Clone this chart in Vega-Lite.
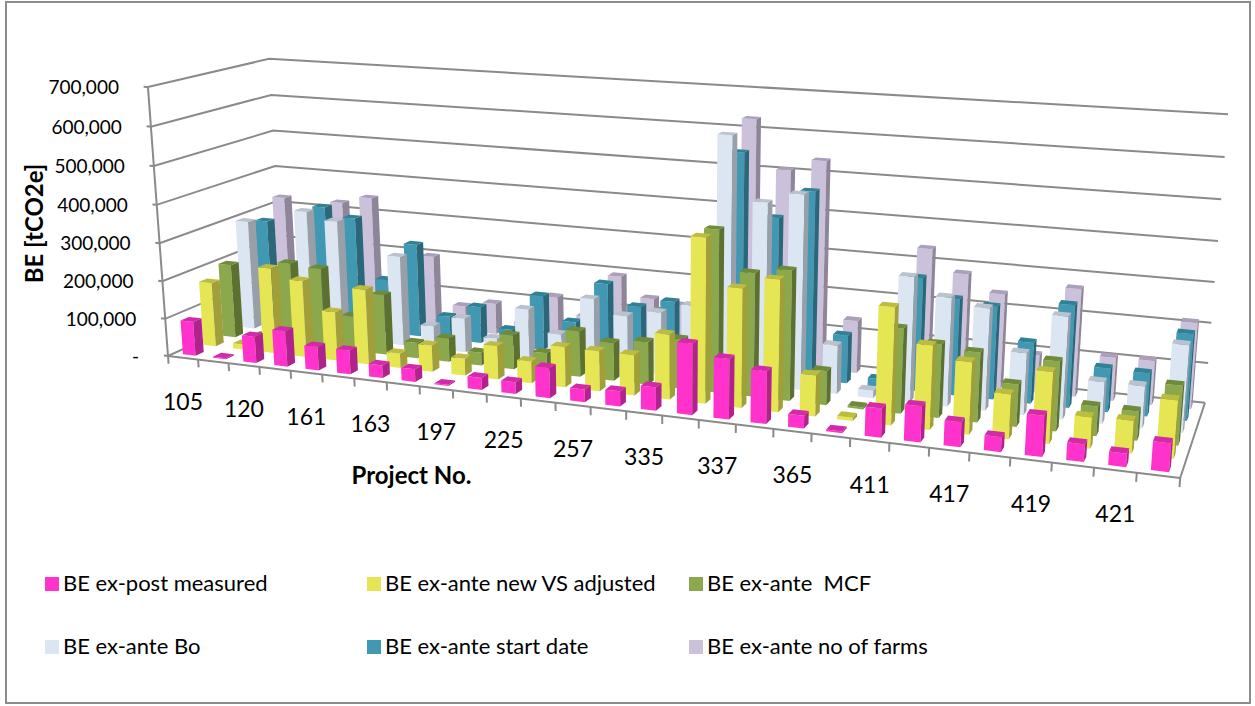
{
  "$schema": "https://vega.github.io/schema/vega-lite/v6.json",
  "width": 1244,
  "height": 701,
  "padding": {"left": 6, "top": 2, "right": 5, "bottom": 3},
  "autosize": {"type": "none"},
  "background": "white",
  "view": {"stroke": "#8c8c8c", "strokeWidth": 2, "fill": "white"},
  "config": {"font": "Lato", "legend": {"labelFont": "Lato"}},
  "datasets": {
    "frame": [
      {"part": "level", "value": 0, "label": "-  "},
      {"part": "level", "value": 100000, "label": "100,000"},
      {"part": "level", "value": 200000, "label": "200,000"},
      {"part": "level", "value": 300000, "label": "300,000"},
      {"part": "level", "value": 400000, "label": "400,000"},
      {"part": "level", "value": 500000, "label": "500,000"},
      {"part": "level", "value": 600000, "label": "600,000"},
      {"part": "level", "value": 700000, "label": "700,000"},
      {"part": "edge", "edge": "left"},
      {"part": "edge", "edge": "front"},
      {"part": "edge", "edge": "right"},
      {"part": "tick", "slot": 0}, {"part": "tick", "slot": 1}, {"part": "tick", "slot": 2}, {"part": "tick", "slot": 3},
      {"part": "tick", "slot": 4}, {"part": "tick", "slot": 5}, {"part": "tick", "slot": 6}, {"part": "tick", "slot": 7},
      {"part": "tick", "slot": 8}, {"part": "tick", "slot": 9}, {"part": "tick", "slot": 10}, {"part": "tick", "slot": 11},
      {"part": "tick", "slot": 12}, {"part": "tick", "slot": 13}, {"part": "tick", "slot": 14}, {"part": "tick", "slot": 15},
      {"part": "tick", "slot": 16}, {"part": "tick", "slot": 17}, {"part": "tick", "slot": 18}, {"part": "tick", "slot": 19},
      {"part": "tick", "slot": 20}, {"part": "tick", "slot": 21}, {"part": "tick", "slot": 22}, {"part": "tick", "slot": 23},
      {"part": "tick", "slot": 24}, {"part": "tick", "slot": 25}, {"part": "tick", "slot": 26}, {"part": "tick", "slot": 27},
      {"part": "tick", "slot": 28}
    ],
    "projects": [
      {"slot": 0, "project": "105"}, {"slot": 2, "project": "120"}, {"slot": 4, "project": "161"}, {"slot": 6, "project": "163"},
      {"slot": 8, "project": "197"}, {"slot": 10, "project": "225"}, {"slot": 12, "project": "257"}, {"slot": 14, "project": "335"},
      {"slot": 16, "project": "337"}, {"slot": 18, "project": "365"}, {"slot": 20, "project": "411"}, {"slot": 22, "project": "417"},
      {"slot": 24, "project": "419"}, {"slot": 26, "project": "421"}
    ],
    "bars": [
      {"slot":0,"depth":5,"value":326000},{"slot":1,"depth":5,"value":15000},{"slot":2,"depth":5,"value":326000},{"slot":3,"depth":5,"value":346000},{"slot":4,"depth":5,"value":180000},{"slot":5,"depth":5,"value":198000},{"slot":6,"depth":5,"value":68000},{"slot":7,"depth":5,"value":84000},{"slot":8,"depth":5,"value":40000},{"slot":9,"depth":5,"value":120000},{"slot":10,"depth":5,"value":75000},{"slot":11,"depth":5,"value":193000},{"slot":12,"depth":5,"value":141000},{"slot":13,"depth":5,"value":131000},{"slot":14,"depth":5,"value":150000},{"slot":15,"depth":5,"value":630000},{"slot":16,"depth":5,"value":507000},{"slot":17,"depth":5,"value":537000},{"slot":18,"depth":5,"value":136000},{"slot":19,"depth":5,"value":10000},{"slot":20,"depth":5,"value":337000},{"slot":21,"depth":5,"value":282000},{"slot":22,"depth":5,"value":240000},{"slot":23,"depth":5,"value":95000},{"slot":24,"depth":5,"value":270000},{"slot":25,"depth":5,"value":108000},{"slot":26,"depth":5,"value":110000},{"slot":27,"depth":5,"value":213000},
      {"slot":0,"depth":4,"value":279000},{"slot":1,"depth":4,"value":15000},{"slot":2,"depth":4,"value":332000},{"slot":3,"depth":4,"value":309000},{"slot":4,"depth":4,"value":147000},{"slot":5,"depth":4,"value":252000},{"slot":6,"depth":4,"value":63000},{"slot":7,"depth":4,"value":98000},{"slot":8,"depth":4,"value":45000},{"slot":9,"depth":4,"value":146000},{"slot":10,"depth":4,"value":84000},{"slot":11,"depth":4,"value":195000},{"slot":12,"depth":4,"value":143000},{"slot":13,"depth":4,"value":165000},{"slot":14,"depth":4,"value":150000},{"slot":15,"depth":4,"value":562000},{"slot":16,"depth":4,"value":405000},{"slot":17,"depth":4,"value":478000},{"slot":18,"depth":4,"value":123000},{"slot":19,"depth":4,"value":20000},{"slot":20,"depth":4,"value":286000},{"slot":21,"depth":4,"value":242000},{"slot":22,"depth":4,"value":232000},{"slot":23,"depth":4,"value":152000},{"slot":24,"depth":4,"value":254000},{"slot":25,"depth":4,"value":108000},{"slot":26,"depth":4,"value":106000},{"slot":27,"depth":4,"value":211000},
      {"slot":0,"depth":3,"value":297000},{"slot":1,"depth":3,"value":15000},{"slot":2,"depth":3,"value":339000},{"slot":3,"depth":3,"value":320000},{"slot":4,"depth":3,"value":100000},{"slot":5,"depth":3,"value":240000},{"slot":6,"depth":3,"value":61000},{"slot":7,"depth":3,"value":91000},{"slot":8,"depth":3,"value":46000},{"slot":9,"depth":3,"value":133000},{"slot":10,"depth":3,"value":76000},{"slot":11,"depth":3,"value":178000},{"slot":12,"depth":3,"value":143000},{"slot":13,"depth":3,"value":161000},{"slot":14,"depth":3,"value":187000},{"slot":15,"depth":3,"value":620000},{"slot":16,"depth":3,"value":462000},{"slot":17,"depth":3,"value":489000},{"slot":18,"depth":3,"value":123000},{"slot":19,"depth":3,"value":19000},{"slot":20,"depth":3,"value":311000},{"slot":21,"depth":3,"value":269000},{"slot":22,"depth":3,"value":252000},{"slot":23,"depth":3,"value":152000},{"slot":24,"depth":3,"value":250000},{"slot":25,"depth":3,"value":102000},{"slot":26,"depth":3,"value":102000},{"slot":27,"depth":3,"value":210000},
      {"slot":0,"depth":2,"value":199000},{"slot":1,"depth":2,"value":12000},{"slot":2,"depth":2,"value":219000},{"slot":3,"depth":2,"value":213000},{"slot":4,"depth":2,"value":93000},{"slot":5,"depth":2,"value":160000},{"slot":6,"depth":2,"value":41000},{"slot":7,"depth":2,"value":62000},{"slot":8,"depth":2,"value":34000},{"slot":9,"depth":2,"value":89000},{"slot":10,"depth":2,"value":52000},{"slot":11,"depth":2,"value":119000},{"slot":12,"depth":2,"value":98000},{"slot":13,"depth":2,"value":110000},{"slot":14,"depth":2,"value":126000},{"slot":15,"depth":2,"value":408000},{"slot":16,"depth":2,"value":309000},{"slot":17,"depth":2,"value":324000},{"slot":18,"depth":2,"value":85000},{"slot":19,"depth":2,"value":5000},{"slot":20,"depth":2,"value":209000},{"slot":21,"depth":2,"value":180000},{"slot":22,"depth":2,"value":170000},{"slot":23,"depth":2,"value":103000},{"slot":24,"depth":2,"value":168000},{"slot":25,"depth":2,"value":71000},{"slot":26,"depth":2,"value":70000},{"slot":27,"depth":2,"value":141000},
      {"slot":0,"depth":1,"value":172000},{"slot":1,"depth":1,"value":14000},{"slot":2,"depth":1,"value":228000},{"slot":3,"depth":1,"value":203000},{"slot":4,"depth":1,"value":129000},{"slot":5,"depth":1,"value":197000},{"slot":6,"depth":1,"value":38000},{"slot":7,"depth":1,"value":69000},{"slot":8,"depth":1,"value":44000},{"slot":9,"depth":1,"value":86000},{"slot":10,"depth":1,"value":56000},{"slot":11,"depth":1,"value":103000},{"slot":12,"depth":1,"value":102000},{"slot":13,"depth":1,"value":102000},{"slot":14,"depth":1,"value":163000},{"slot":15,"depth":1,"value":409000},{"slot":16,"depth":1,"value":294000},{"slot":17,"depth":1,"value":324000},{"slot":18,"depth":1,"value":101000},{"slot":19,"depth":1,"value":8000},{"slot":20,"depth":1,"value":284000},{"slot":21,"depth":1,"value":203000},{"slot":22,"depth":1,"value":173000},{"slot":23,"depth":1,"value":107000},{"slot":24,"depth":1,"value":170000},{"slot":25,"depth":1,"value":74000},{"slot":26,"depth":1,"value":77000},{"slot":27,"depth":1,"value":135000},
      {"slot":0,"depth":0,"value":91000},{"slot":1,"depth":0,"value":3000},{"slot":2,"depth":0,"value":70000},{"slot":3,"depth":0,"value":94000},{"slot":4,"depth":0,"value":62000},{"slot":5,"depth":0,"value":62000},{"slot":6,"depth":0,"value":33000},{"slot":7,"depth":0,"value":33000},{"slot":8,"depth":0,"value":3000},{"slot":9,"depth":0,"value":31000},{"slot":10,"depth":0,"value":30000},{"slot":11,"depth":0,"value":76000},{"slot":12,"depth":0,"value":32000},{"slot":13,"depth":0,"value":38000},{"slot":14,"depth":0,"value":58000},{"slot":15,"depth":0,"value":175000},{"slot":16,"depth":0,"value":148000},{"slot":17,"depth":0,"value":128000},{"slot":18,"depth":0,"value":31000},{"slot":19,"depth":0,"value":4000},{"slot":20,"depth":0,"value":70000},{"slot":21,"depth":0,"value":86000},{"slot":22,"depth":0,"value":59000},{"slot":23,"depth":0,"value":35000},{"slot":24,"depth":0,"value":96000},{"slot":25,"depth":0,"value":41000},{"slot":26,"depth":0,"value":31000},{"slot":27,"depth":0,"value":66000}
    ]
  },
  "encoding": {
    "x": {
      "field": "px",
      "type": "quantitative",
      "scale": {"domain": [6, 1250], "nice": false, "zero": false},
      "axis": {
        "title": "Project No.",
        "titleFont": "Lato",
        "titleFontSize": 24,
        "titleFontWeight": "bold",
        "titleColor": "black",
        "titleX": 405,
        "titleY": -239,
        "titleAnchor": "middle",
        "domain": false,
        "ticks": false,
        "labels": false,
        "grid": false
      }
    },
    "y": {
      "field": "py",
      "type": "quantitative",
      "scale": {"domain": [703, 2], "nice": false, "zero": false},
      "axis": {
        "title": "BE [tCO2e]",
        "titleFont": "Lato",
        "titleFontSize": 24,
        "titleFontWeight": "bold",
        "titleColor": "black",
        "titleX": 41,
        "titleY": 221,
        "titleAnchor": "middle",
        "domain": false,
        "ticks": false,
        "labels": false,
        "grid": false
      }
    }
  },
  "layer": [
    {
      "data": {"name": "frame"},
      "transform": [
        {"calculate": "datum.part === 'level' ? [0, 1, 2, 3] : [0, 1]", "as": "corners"},
        {"flatten": ["corners"], "as": ["corner"]},
        {"calculate": "datum.part === 'level' ? (datum.corner === 0 ? -0.005 : datum.corner === 3 ? 1 : 0) : datum.part === 'tick' ? datum.slot / 28 : datum.edge === 'left' ? 0 : datum.edge === 'right' ? 1 : datum.corner", "as": "s"},
        {"calculate": "datum.part === 'level' ? (datum.corner >= 2 ? 1 : 0) : datum.edge === 'right' ? datum.corner : 0", "as": "t"},
        {"calculate": "datum.part === 'level' ? datum.value / 700000 : datum.part === 'tick' ? -0.03 * datum.corner : datum.edge === 'left' ? datum.corner : 0", "as": "h"},
        {"calculate": "1 - 0.173 * datum.s + 0.1025 * datum.t - 0.03843 * datum.h", "as": "w"},
        {"calculate": "(168 + 808 * datum.s + 144 * datum.t - 25.75 * datum.h) / datum.w", "as": "px"},
        {"calculate": "(356 + 39.3 * datum.s - 21 * datum.t - 272.4 * datum.h) / datum.w", "as": "py"},
        {"calculate": "datum.part + '-' + datum.value + '-' + datum.edge + '-' + datum.slot", "as": "path"}
      ],
      "mark": {"type": "line", "stroke": "#8a8a8a", "strokeWidth": 2, "strokeJoin": "miter"},
      "encoding": {
        "detail": {"field": "path"},
        "order": {"field": "corner", "type": "quantitative"}
      }
    },
    {
      "data": {"name": "bars"},
      "transform": [
        {"calculate": "['BE ex-post measured', 'BE ex-ante new VS adjusted', 'BE ex-ante \u00a0MCF', 'BE ex-ante Bo', 'BE ex-ante start date', 'BE ex-ante no of farms'][datum.depth]", "as": "series"},
        {"calculate": "['front', 'side', 'top']", "as": "faces"},
        {"flatten": ["faces"], "as": ["face"]},
        {"calculate": "[0, 1, 2, 3]", "as": "corners"},
        {"flatten": ["corners"], "as": ["corner"]},
        {"calculate": "datum.face === 'side' ? 1 : (datum.corner === 1 || datum.corner === 2) ? 1 : 0", "as": "right"},
        {"calculate": "datum.face === 'side' ? ((datum.corner === 1 || datum.corner === 2) ? 1 : 0) : datum.face === 'top' ? (datum.corner >= 2 ? 1 : 0) : 0", "as": "back"},
        {"calculate": "(datum.face === 'top' || datum.corner >= 2) ? datum.value / 700000 : 0", "as": "h"},
        {"calculate": "(datum.slot + 0.29 + 0.42 * datum.right) / 28", "as": "s"},
        {"calculate": "(datum.depth + 0.3 + 0.4 * datum.back) / 6", "as": "t"},
        {"calculate": "1 - 0.173 * datum.s + 0.1025 * datum.t - 0.03843 * datum.h", "as": "w"},
        {"calculate": "(168 + 808 * datum.s + 144 * datum.t - 25.75 * datum.h) / datum.w", "as": "px"},
        {"calculate": "(356 + 39.3 * datum.s - 21 * datum.t - 272.4 * datum.h) / datum.w", "as": "py"},
        {"calculate": "datum.depth + '-' + datum.slot + '-' + datum.face", "as": "facet"},
        {"calculate": "datum.face === 'front' ? datum.series : datum.series + ' ' + datum.face", "as": "shade"}
      ],
      "mark": {"type": "line", "filled": true, "strokeWidth": 0},
      "encoding": {
        "detail": {"field": "facet"},
        "order": {"field": "corner", "type": "quantitative"},
        "color": {
          "field": "shade",
          "type": "nominal",
          "scale": {
            "domain": [
              "BE ex-post measured", "BE ex-ante new VS adjusted", "BE ex-ante \u00a0MCF", "BE ex-ante Bo", "BE ex-ante start date", "BE ex-ante no of farms",
              "BE ex-post measured side", "BE ex-ante new VS adjusted side", "BE ex-ante \u00a0MCF side", "BE ex-ante Bo side", "BE ex-ante start date side", "BE ex-ante no of farms side",
              "BE ex-post measured top", "BE ex-ante new VS adjusted top", "BE ex-ante \u00a0MCF top", "BE ex-ante Bo top", "BE ex-ante start date top", "BE ex-ante no of farms top"
            ],
            "range": [
              "#ff33cc", "#e6e655", "#8ba84c", "#dce6f2", "#4198b2", "#ccc1da",
              "#b0238c", "#a09f3a", "#5c7030", "#989fa8", "#2a6779", "#8e8698",
              "#d42aa9", "#bcbc40", "#6f8a38", "#b9c2cd", "#2f8296", "#ab9fbb"
            ]
          },
          "legend": {
            "values": ["BE ex-post measured", "BE ex-ante new VS adjusted", "BE ex-ante \u00a0MCF", "BE ex-ante Bo", "BE ex-ante start date", "BE ex-ante no of farms"],
            "title": null,
            "orient": "none",
            "legendX": 35,
            "legendY": 571,
            "direction": "horizontal",
            "columns": 3,
            "gridAlign": "all",
            "columnPadding": 28,
            "rowPadding": 41,
            "symbolType": "square",
            "symbolSize": 196,
            "symbolStrokeWidth": 0,
            "labelFont": "Lato",
            "labelFontSize": 22,
            "labelColor": "black",
            "labelOffset": 0,
            "labelLimit": 400
          }
        }
      }
    },
    {
      "data": {"name": "frame"},
      "transform": [
        {"filter": "datum.part === 'level'"},
        {"calculate": "datum.value / 700000", "as": "h"},
        {"calculate": "1 - 0.03843 * datum.h", "as": "w"},
        {"calculate": "(168 - 25.75 * datum.h) / datum.w", "as": "px"},
        {"calculate": "(356 - 272.4 * datum.h) / datum.w", "as": "py"}
      ],
      "mark": {"type": "text", "align": "right", "baseline": "middle", "dx": -29, "dy": 1, "fontSize": 19, "font": "Lato", "color": "black"},
      "encoding": {"text": {"field": "label"}}
    },
    {
      "data": {"name": "projects"},
      "transform": [
        {"calculate": "(datum.slot + 0.5) / 28", "as": "s"},
        {"calculate": "1 - 0.173 * datum.s", "as": "w"},
        {"calculate": "(168 + 808 * datum.s) / datum.w", "as": "px"},
        {"calculate": "(356 + 39.3 * datum.s) / datum.w", "as": "py"}
      ],
      "mark": {"type": "text", "align": "center", "baseline": "middle", "dy": 45, "fontSize": 23, "font": "Lato", "color": "black"},
      "encoding": {"text": {"field": "project"}}
    }
  ]
}
